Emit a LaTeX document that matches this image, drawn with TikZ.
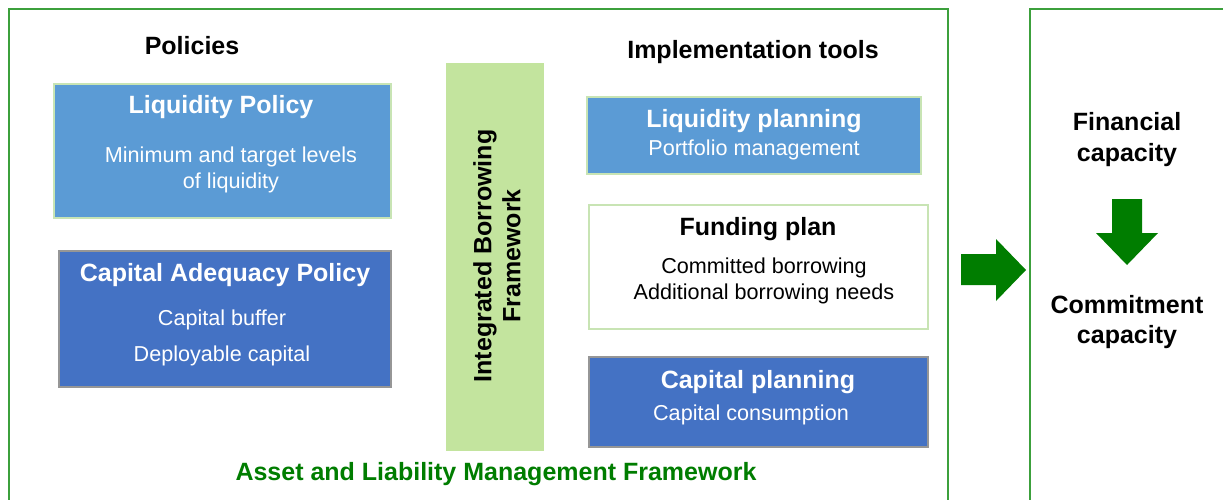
\documentclass[tikz,border=0pt]{standalone}
\usepackage{fontspec}
\setmainfont{Liberation Sans}
\usepackage{xcolor}
\definecolor{liqblue}{RGB}{91,155,213}
\definecolor{capblue}{RGB}{68,114,196}
\definecolor{barGreen}{RGB}{195,228,158}
\definecolor{edgeGreen}{RGB}{200,228,180}
\definecolor{frameGreen}{RGB}{60,160,60}
\definecolor{arrowGreen}{RGB}{0,125,0}
\definecolor{edgeGray}{RGB}{150,150,150}

\tikzset{
    box/.style={rectangle, inner sep=0pt, line width=1.2pt},
    liqbox/.style={box, fill=liqblue, draw=edgeGreen},
    capbox/.style={box, fill=capblue, draw=edgeGray},
    planbox/.style={box, fill=white, draw=edgeGreen},
    title/.style={font=\fontsize{25}{28}\selectfont\bfseries, inner sep=0pt, align=center},
    body/.style={font=\fontsize{21.6}{26}\selectfont, inner sep=0pt, align=center},
    frame/.style={draw=frameGreen, line width=1.6pt},
}

\begin{document}
\begin{tikzpicture}[x=1pt, y=-1pt]
    \useasboundingbox (0,0) rectangle (1223,500);
    \fill[white] (0,0) rectangle (1223,500);
    % frames
    \draw[frame] (9,502) -- (9,9) -- (948,9) -- (948,502);
    \draw[frame] (1030,502) -- (1030,9) -- (1226,9);
    % policies
    \node[title] (policies) at (192,46) {Policies};
    \node[liqbox, minimum width=337, minimum height=134] (liqpol) at (222.5,151) {};
    \node[title, white] (liqpolT) at (221,107) {Liquidity Policy};
    \node[body, white] (liqpolB) at (231,170) {Minimum and target levels\\of liquidity};
    \node[capbox, minimum width=332, minimum height=136] (capad) at (225,319) {};
    \node[title, white] (capadT) at (225,275) {Capital Adequacy Policy};
    \node[body, white, font=\fontsize{21.6}{36}\selectfont] (capadB) at (222,338) {Capital buffer\\Deployable capital};
    % borrowing framework
    \node[box, fill=barGreen, minimum width=98, minimum height=388] (ibf) at (495,257) {};
    \node[title, rotate=90, font=\fontsize{25}{29}\selectfont\bfseries] (ibfT) at (497,256) {Integrated Borrowing\\Framework};
    % implementation tools
    \node[title] (tools) at (753,52) {Implementation tools};
    \node[liqbox, minimum width=334, minimum height=77] (liqplan) at (754,135.5) {};
    \node[title, white] (liqplanT) at (754,121) {Liquidity planning};
    \node[body, white] (liqplanB) at (754,150) {Portfolio management};
    \node[planbox, minimum width=339, minimum height=124] (funding) at (758.5,267) {};
    \node[title] (fundingT) at (758,229) {Funding plan};
    \node[body] (fundingB) at (764,281) {Committed borrowing\\Additional borrowing needs};
    \node[capbox, minimum width=339, minimum height=90] (capplan) at (758.5,402) {};
    \node[title, white] (capplanT) at (758,382) {Capital planning};
    \node[body, white] (capplanB) at (751,415) {Capital consumption};
    \node[title, arrowGreen] (alm) at (496,474) {Asset and Liability Management Framework};
    % capacity
    \fill[arrowGreen] (961,254) -- (996,254) -- (996,239) -- (1026,270)
        -- (996,301) -- (996,285) -- (961,285) -- cycle;
    \node[title, font=\fontsize{25}{31}\selectfont\bfseries] (fincap) at (1127,139.5) {Financial\\capacity};
    \fill[arrowGreen] (1112,199) -- (1142,199) -- (1142,233) -- (1158,233)
        -- (1127,265) -- (1096,233) -- (1112,233) -- cycle;
    \node[title, font=\fontsize{25}{30}\selectfont\bfseries] (comcap) at (1127,322) {Commitment\\capacity};
\end{tikzpicture}
\end{document}
